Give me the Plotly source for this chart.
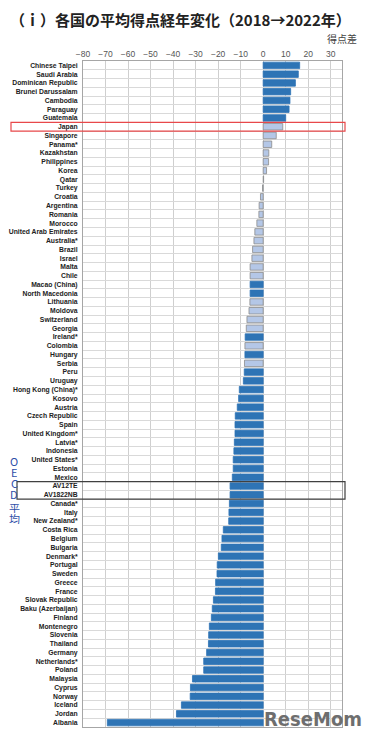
import plotly.graph_objects as go

categories = ["Chinese Taipei", "Saudi Arabia", "Dominican Republic", "Brunei Darussalam", "Cambodia",
              "Paraguay", "Guatemala", "Japan", "Singapore", "Panama*", "Kazakhstan", "Philippines", "Korea",
              "Qatar", "Turkey", "Croatia", "Argentina", "Romania", "Morocco", "United Arab Emirates",
              "Australia*", "Brazil", "Israel", "Malta", "Chile", "Macao (China)", "North Macedonia",
              "Lithuania", "Moldova", "Switzerland", "Georgia", "Ireland*", "Colombia", "Hungary", "Serbia",
              "Peru", "Uruguay", "Hong Kong (China)*", "Kosovo", "Austria", "Czech Republic", "Spain",
              "United Kingdom*", "Latvia*", "Indonesia", "United States*", "Estonia", "Mexico", "AV12TE",
              "AV1822NB", "Canada*", "Italy", "New Zealand*", "Costa Rica", "Belgium", "Bulgaria", "Denmark*",
              "Portugal", "Sweden", "Greece", "France", "Slovak Republic", "Baku (Azerbaijan)", "Finland",
              "Montenegro", "Slovenia", "Thailand", "Germany", "Netherlands*", "Poland", "Malaysia", "Cyprus",
              "Norway", "Iceland", "Jordan", "Albania"]

values = [16.2, 15.6, 14.3, 12.2, 11.9, 11.5, 10.0, 8.7, 5.8, 3.8, 2.5, 2.4, 1.5,
          0.2, -0.3, -1.2, -1.8, -1.9, -2.8, -3.7, -4.1, -4.7, -5.0, -5.8, -5.8, -5.8, -5.8,
          -5.9, -6.3, -7.2, -7.5, -8.0, -8.1, -8.1, -8.3, -8.4, -8.8, -10.6, -10.9, -11.5, -12.4,
          -12.5, -12.5, -12.8, -13.0, -13.3, -13.3, -13.7, -14.7, -14.7, -15.0, -15.2, -15.3,
          -17.7, -18.3, -18.6, -19.9, -20.4, -20.5, -21.1, -21.2, -22.1, -22.6, -23.0, -23.9,
          -24.2, -24.3, -25.1, -26.4, -26.4, -31.4, -32.3, -32.4, -36.3, -38.5, -69.2]

# 1 = statistically significant change (dark), 0 = not significant (light)
significant = [1, 1, 1, 1, 1, 1, 1, 0, 0, 0, 0, 0, 0,
               0, 0, 0, 0, 0, 0, 0, 0, 0, 0, 0, 0, 1, 1,
               0, 0, 0, 0, 1, 0, 1, 0, 1, 1, 1, 1, 1, 1,
               1, 1, 1, 1, 1, 1, 1, 1, 1, 1, 1, 1,
               1, 1, 1, 1, 1, 1, 1, 1, 1, 1, 1, 1,
               1, 1, 1, 1, 1, 1, 1, 1, 1, 1, 1]

x_ticks = [-80, -70, -60, -50, -40, -30, -20, -10, 0, 10, 20, 30]

DARK = "#2E74B5"
LIGHT = "#B4C7E7"
colors = [DARK if s else LIGHT for s in significant]
line_colors = [DARK if s else "#8C8C8C" for s in significant]

# page body margin offset (browser default 8px)
OFF = 8
W, H = 373 - 2 * OFF, 739 - 2 * OFF
L, R, T, B = 83 - OFF, 342 - OFF, 61 - OFF, 727 - OFF


def px(x):
    return (x - OFF - L) / (R - L)


def py(y):
    return (B - (y - OFF)) / (B - T)


fig = go.Figure(go.Bar(
    x=values, y=categories, orientation="h",
    marker=dict(color=colors, line=dict(color=line_colors, width=0.8)),
    width=0.74,
))

fig.update_layout(
    width=W, height=H,
    margin=dict(l=L, r=W - R, t=T, b=H - B, autoexpand=False),
    paper_bgcolor="white", plot_bgcolor="white",
    showlegend=False,
    font=dict(family="Liberation Sans, Arial, sans-serif", color="#222"),
)

fig.update_xaxes(
    range=[-80, 35], side="top", tickmode="array", tickvals=x_ticks,
    tickfont=dict(size=8.5, color="#555"),
    showgrid=True, gridcolor="#CFCFCF", gridwidth=1,
    zeroline=False, ticks="", automargin=False,
    showline=True, linecolor="#A6A6A6", mirror=True,
)
fig.update_yaxes(
    type="category", autorange="reversed",
    tickmode="array", tickvals=categories, ticktext=categories,
    tickson="boundaries", ticks="", automargin=False,
    showgrid=True, gridcolor="#D9D9D9", gridwidth=1,
    tickfont=dict(size=6.8, color="#222", weight="bold", family="Liberation Sans, Arial"),
    ticklabelstandoff=3,
    showline=True, linecolor="#A6A6A6", mirror=True,
)

# Highlight boxes
ji = categories.index("Japan")
fig.add_shape(type="rect", xref="paper", yref="y",
              x0=px(11), x1=px(345), y0=ji - 0.5, y1=ji + 0.5,
              line=dict(color="#E8484A", width=1.2), fillcolor="rgba(0,0,0,0)")
ai = categories.index("AV12TE")
bi = categories.index("AV1822NB")
fig.add_shape(type="rect", xref="paper", yref="y",
              x0=px(17), x1=px(345), y0=ai - 0.5, y1=bi + 0.5,
              line=dict(color="#404040", width=1.2), fillcolor="rgba(0,0,0,0)")

# Title
fig.add_annotation(text="<b>（ｉ）各国の平均得点経年変化（2018→2022年）</b>",
                   xref="paper", yref="paper", x=px(9), y=1 + T / (B - T),
                   xanchor="left", yanchor="top", showarrow=False, borderpad=0,
                   font=dict(size=15, color="#222", family="Noto Sans CJK JP"))
fig.add_annotation(text="得点差", xref="paper", yref="paper", x=px(359), y=py(39),
                   xanchor="right", yanchor="middle", showarrow=False,
                   font=dict(size=10, color="#444", family="Noto Sans CJK JP"))

# OECD average vertical label
oecd_chars = ["O", "E", "C", "D", "平", "均"]
oecd_y = [460, 471, 482, 494, 507, 519]
for ch, yy in zip(oecd_chars, oecd_y):
    fig.add_annotation(text=ch, xref="paper", yref="paper", x=px(14), y=py(yy),
                       xanchor="center", yanchor="middle", showarrow=False,
                       height=11, borderpad=0,
                       font=dict(size=11, color="#2F4FA8", family="Noto Sans CJK JP"))

# Watermark
fig.add_annotation(text="<b>ReseMom</b>", xref="paper", yref="paper", x=px(262), y=py(719),
                   xanchor="left", yanchor="middle", showarrow=False,
                   font=dict(size=20, color="#6E6E6E", family="DejaVu Sans Condensed, Liberation Sans"))

fig.write_html("out.html")
